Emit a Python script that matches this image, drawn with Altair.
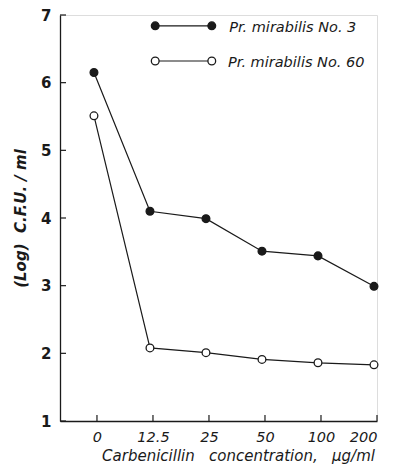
import json
import altair as alt
import pandas as pd

conc_labels = ["0", "12.5", "25", "50", "100", "200"]
no3_values = [6.15, 4.10, 3.99, 3.51, 3.44, 2.99]
no60_values = [5.51, 2.08, 2.01, 1.91, 1.86, 1.83]
series_names = ["Pr. mirabilis No. 3", "Pr. mirabilis No. 60"]
y_ticks = [1, 2, 3, 4, 5, 6, 7]

rows = []
for i, lab in enumerate(conc_labels):
    rows.append({"idx": i, "conc": lab, "series": series_names[0], "val": no3_values[i], "filled": True})
    rows.append({"idx": i, "conc": lab, "series": series_names[1], "val": no60_values[i], "filled": False})
df = pd.DataFrame(rows)

# legend entries (placed in data space, upper right)
leg_y = [6.84, 6.32]
leg = pd.DataFrame({
    "series": series_names,
    "x1": [1.04, 1.04],
    "x2": [2.05, 2.05],
    "xt": [2.36, 2.34],
    "y": leg_y,
})
leg_pts = pd.concat([
    leg[["series", "y"]].assign(x=leg["x1"]),
    leg[["series", "y"]].assign(x=leg["x2"]),
])

W, H = 317, 406
xs = alt.Scale(domain=[-0.66, 5.0], nice=False, zero=False)
ys = alt.Scale(domain=[1, 7], nice=False, zero=False)
FONT = "DejaVu Sans"
INK = "#1a1a1a"
NB = "\u00a0"

label_expr = json.dumps(conc_labels) + "[datum.value]"

base = alt.Chart(df)

lines = base.mark_line(color=INK, strokeWidth=1.2, xOffset=-3).encode(
    x=alt.X("idx:Q", scale=xs,
            axis=alt.Axis(values=list(range(len(conc_labels))), labelExpr=label_expr,
                          title=f"Carbenicillin{NB}{NB}{NB}concentration,{NB}{NB}{NB}μg/ml",
                          tickSize=0, labelPadding=9, labelFontSize=14.5, labelFont=FONT,
                          labelFontStyle="italic", labelColor=INK,
                          titleFont=FONT, titleFontSize=15, titleFontStyle="italic",
                          titleFontWeight="normal", titleColor=INK, titlePadding=5,
                          titleX=178, titleAlign="center",
                          grid=False, domainColor=INK, domainWidth=1.3)),
    y=alt.Y("val:Q", scale=ys,
            axis=alt.Axis(values=y_ticks, format="d", title=f"(Log){NB}{NB}C.F.U.{NB}/{NB}ml", tickSize=0,
                          labelPadding=9, labelFontSize=15, labelFont=FONT,
                          labelFontWeight="bold", labelColor=INK,
                          titleFont=FONT, titleFontSize=15, titleFontStyle="italic",
                          titleFontWeight="bold", titleColor=INK, titlePadding=12,
                          grid=False, domainColor=INK, domainWidth=1.3)),
    detail="series:N",
)

pts = base.mark_point(shape="circle", size=60, strokeWidth=1.3, stroke=INK, opacity=1, xOffset=-3).encode(
    x=alt.X("idx:Q", scale=xs),
    y=alt.Y("val:Q", scale=ys),
    fill=alt.condition("datum.filled", alt.value(INK), alt.value("white")),
)

ytick_df = pd.DataFrame({"t": y_ticks})
yticks = alt.Chart(ytick_df).mark_tick(color=INK, thickness=1.2, size=6, opacity=1).encode(
    y=alt.Y("t:Q", scale=ys), x=alt.value(3)
)
xtick_df = pd.DataFrame({"i": list(range(len(conc_labels)))})
xticks = alt.Chart(xtick_df).mark_tick(color=INK, thickness=1.2, size=6, opacity=1).encode(
    x=alt.X("i:Q", scale=xs), y=alt.value(H - 3)
)

leg_lines = alt.Chart(leg).mark_rule(color=INK, strokeWidth=1.2).encode(
    x=alt.X("x1:Q", scale=xs), x2="x2:Q", y=alt.Y("y:Q", scale=ys)
)
leg_points = alt.Chart(leg_pts).mark_point(shape="circle", size=60, strokeWidth=1.3, stroke=INK, opacity=1).encode(
    x=alt.X("x:Q", scale=xs), y=alt.Y("y:Q", scale=ys),
    fill=alt.condition(alt.datum.series == series_names[0], alt.value(INK), alt.value("white")),
)
leg_text = alt.Chart(leg).mark_text(align="left", baseline="middle", font=FONT, fontSize=14.5,
                                    fontStyle="italic", color=INK, dy=2).encode(
    x=alt.X("xt:Q", scale=xs), y=alt.Y("y:Q", scale=ys), text="series:N"
)

chart = alt.layer(lines, pts, leg_lines, leg_points, leg_text, yticks, xticks).properties(
    width=W, height=H,
    autosize=alt.AutoSizeParams(type="none"),
    padding={"left": 60, "top": 15, "right": 16, "bottom": 45},
).configure_view(stroke=None).configure(background="white")

chart.save("out.html", embed_options={"renderer": "svg", "actions": False})
